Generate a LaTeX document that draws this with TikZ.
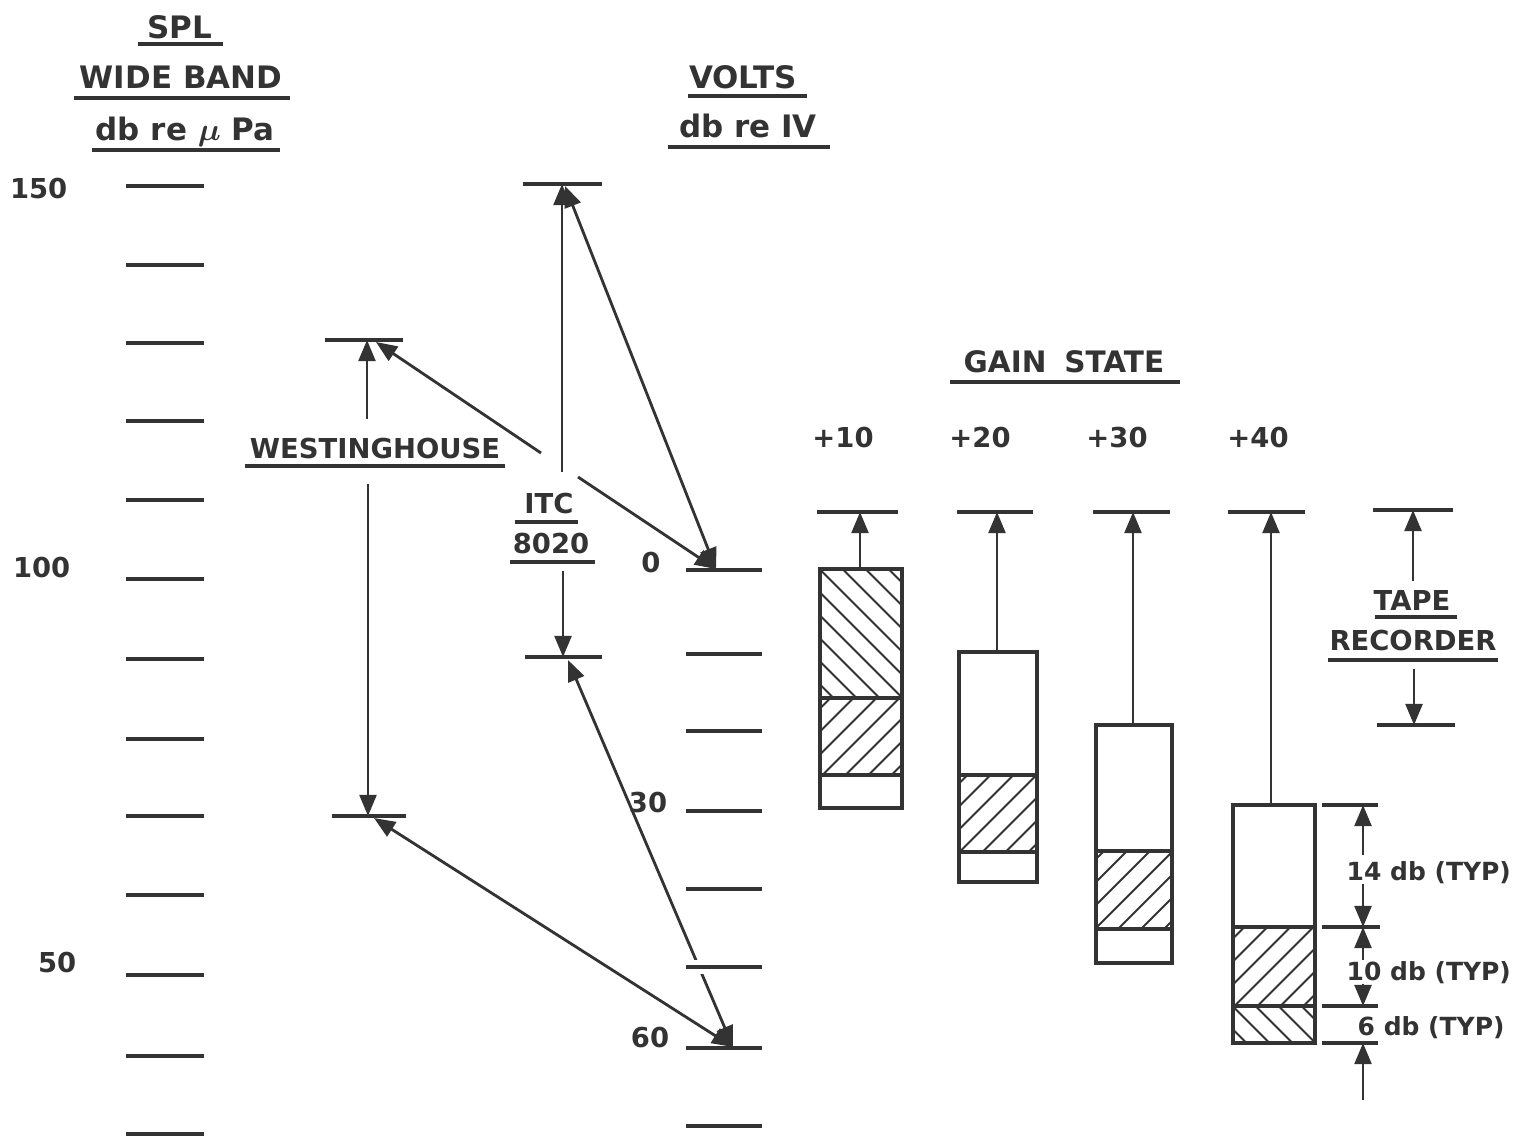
\documentclass[tikz,border=0pt]{standalone}
\usepackage{amsmath}
\usepackage{fontspec}
\setmainfont{DejaVu Sans}
\usepackage{tikz}
\usetikzlibrary{arrows.meta}

\definecolor{ink}{HTML}{333333}

% hatched band: x1, y1, x2, y2, direction (1 = /, -1 = \)
\newcommand{\hatchbox}[5]{%
  \begin{scope}
    \clip (#1,#2) rectangle (#3,#4);
    \foreach \k in {-161,-138,...,161}
      \draw[hatchline] ({(#1+#3)/2+\k-130},{(#2+#4)/2+130*#5}) -- ++(260,{-260*#5});
  \end{scope}}

\begin{document}
\begin{tikzpicture}[x=0.01cm, y=-0.01cm,
    every node/.style={text=ink, font=\bfseries\fontsize{7.8}{10}\selectfont, inner sep=0pt},
    head/.style={font=\bfseries\fontsize{8.8}{11}\selectfont},
    dim/.style={font=\bfseries\fontsize{7.1}{10}\selectfont},
    tick/.style={draw=ink, line width=1pt},
    uline/.style={draw=ink, line width=1pt},
    box/.style={draw=ink, line width=0.9pt},
    hatchline/.style={draw=ink, line width=0.55pt},
    tip/.style={draw=ink, line width=0.8pt, -{Triangle[length=6pt,width=4.8pt]}},
    twotip/.style={draw=ink, line width=0.8pt, {Triangle[length=6pt,width=4.8pt]}-{Triangle[length=6pt,width=4.8pt]}}]
\useasboundingbox[fill=white] (0,0) rectangle (1519,1139);

% SPL scale
\node[head, anchor=base] (spl) at (180,38) {SPL};
\node[head, anchor=base] (wide) at (181,88) {WIDE BAND};
\node[head, anchor=base] (dbre) at (185,140) {db re $\boldsymbol{\mu}$ Pa};
\draw[uline] (138,44) -- (223,44);
\draw[uline] (74,98) -- (290,98);
\draw[uline] (92,150) -- (280,150);
\node[anchor=base east] (s150) at (68,198) {150};
\node[anchor=base east] (s100) at (71,577) {100};
\node[anchor=base east] (s50) at (77,972) {50};
\foreach \ty in {186,265,343,421,500,579,659,739,816,895,975,1056,1134}
  \draw[tick] (126,\ty) -- (204,\ty);

% volts scale
\node[head, anchor=base] (volts) at (743,88) {VOLTS};
\node[head, anchor=base] (dbv) at (748,137) {db re IV};
\draw[uline] (688,96) -- (807,96);
\draw[uline] (668,147) -- (830,147);
\node[anchor=base] (v0) at (651,572) {0};
\node[anchor=base] (v30) at (648,812) {30};
\node[anchor=base] (v60) at (650,1047) {60};

% westinghouse
\draw[tick] (325,340) -- (403,340);
\draw[tick] (332,816) -- (406,816);
\coordinate (wtop) at (367,340);
\coordinate (wbot) at (368,816);
\coordinate (wtopd) at (376,342);
\coordinate (wbotd) at (374,818);
\node[anchor=base] (west) at (375,458) {WESTINGHOUSE};
\draw[uline] (245,466) -- (505,466);
\draw[tip, shorten <=0.18cm] (west.north -| wtop) -- (wtop);
\draw[tip, shorten <=0.25cm] (west.south -| wbot) -- (wbot);

% itc 8020
\draw[tick] (523,184) -- (602,184);
\draw[tick] (525,657) -- (602,657);
\coordinate (itop) at (562,184);
\coordinate (ibot) at (563,657);
\coordinate (itopd) at (565,186);
\coordinate (ibotd) at (568,660);
\node[anchor=base] (itc) at (549,513) {ITC};
\node[anchor=base] (itcno) at (551,553) {8020};
\draw[uline] (515,522) -- (578,522);
\draw[uline] (510,562) -- (595,562);
\draw[tip, shorten <=0.2cm] (itc.north -| itop) -- (itop);
\draw[tip, shorten <=0.17cm] (itcno.south -| ibot) -- (ibot);

% cross arrows
\coordinate (vzero) at (716,569);
\coordinate (vsixty) at (733,1047);
\coordinate (wgapA) at (541,453);
\coordinate (wgapB) at (578,477);
\draw[tip] (wgapA) -- (wtopd);
\draw[tip] (wgapB) -- (vzero);
\draw[twotip] (itopd) -- (vzero);
\draw[twotip] (ibotd) -- (vsixty);
\draw[twotip] (wbotd) -- (vsixty);

\draw[white, line width=4pt] (686,967) -- (762,967);
\foreach \ty in {570,654,731,811,889,967,1048,1126}
  \draw[tick] (686,\ty) -- (762,\ty);

% gain state
\node[anchor=base, font=\bfseries\fontsize{8.4}{10}\selectfont] (gain) at (1064,372) {GAIN\hspace{0.6em}STATE};
\draw[uline] (950,382) -- (1180,382);
\node[anchor=base] (p10) at (843,447) {+10};
\node[anchor=base] (p20) at (980,447) {+20};
\node[anchor=base] (p30) at (1117,447) {+30};
\node[anchor=base] (p40) at (1258,447) {+40};

\draw[tick] (817,512) -- (898,512);
\draw[tick] (957,512) -- (1033,512);
\draw[tick] (1093,512) -- (1170,512);
\draw[tick] (1228,512) -- (1305,512);
\coordinate (t10) at (860,512);
\coordinate (t20) at (997,512);
\coordinate (t30) at (1133,512);
\coordinate (t40) at (1271,512);
\coordinate (g10) at (860,569);
\coordinate (g20) at (997,652);
\coordinate (g30) at (1133,725);
\coordinate (g40) at (1271,805);

\hatchbox{820}{569}{902}{698}{-1}
\hatchbox{820}{698}{902}{775}{1}
\draw[box] (820,569) rectangle (902,808);
\draw[box] (820,698) -- (902,698) (820,775) -- (902,775);

\hatchbox{959}{775}{1037}{852}{1}
\draw[box] (959,652) rectangle (1037,882);
\draw[box] (959,775) -- (1037,775) (959,852) -- (1037,852);

\hatchbox{1096}{851}{1172}{929}{1}
\draw[box] (1096,725) rectangle (1172,963);
\draw[box] (1096,851) -- (1172,851) (1096,929) -- (1172,929);

\hatchbox{1233}{927}{1315}{1006}{1}
\hatchbox{1233}{1006}{1315}{1043}{-1}
\draw[box] (1233,805) rectangle (1315,1043);
\draw[box] (1233,927) -- (1315,927) (1233,1006) -- (1315,1006);

\draw[tip] (g10) -- (t10);
\draw[tip] (g20) -- (t20);
\draw[tip] (g30) -- (t30);
\draw[tip] (g40) -- (t40);

% tape recorder
\draw[tick] (1373,510) -- (1453,510);
\draw[tick] (1377,725) -- (1455,725);
\coordinate (rtop) at (1413,510);
\coordinate (rbot) at (1414,725);
\node[anchor=base] (tape) at (1412,610) {TAPE};
\node[anchor=base] (rec) at (1413,650) {RECORDER};
\draw[uline] (1375,617) -- (1457,617);
\draw[uline] (1328,660) -- (1498,660);
\draw[tip, shorten <=0.08cm] (tape.north -| rtop) -- (rtop);
\draw[tip, shorten <=0.18cm] (rec.south -| rbot) -- (rbot);

% dimensions
\draw[tick] (1322,805) -- (1378,805);
\draw[tick] (1322,927) -- (1380,927);
\draw[tick] (1322,1006) -- (1378,1006);
\draw[tick] (1322,1043) -- (1378,1043);
\coordinate (dA) at (1363,805);
\coordinate (dB) at (1363,927);
\coordinate (dC) at (1363,1006);
\coordinate (dD) at (1363,1043);
\coordinate (dE) at (1363,1100);
\node[dim, anchor=base west] (d14) at (1346,880) {14 db (TYP)};
\node[dim, anchor=base west] (d10) at (1346,980) {10 db (TYP)};
\node[dim, anchor=base west] (d6) at (1357,1035) {6 db (TYP)};
\draw[tip, shorten <=0.05cm] (d14.north -| dA) -- (dA);
\draw[tip] (d14.south -| dB) -- (dB);
\draw[tip] (d10.north -| dB) -- (dB);
\draw[tip] (d10.south -| dC) -- (dC);
\draw[tip] (dE) -- (dD);
\end{tikzpicture}
\end{document}
